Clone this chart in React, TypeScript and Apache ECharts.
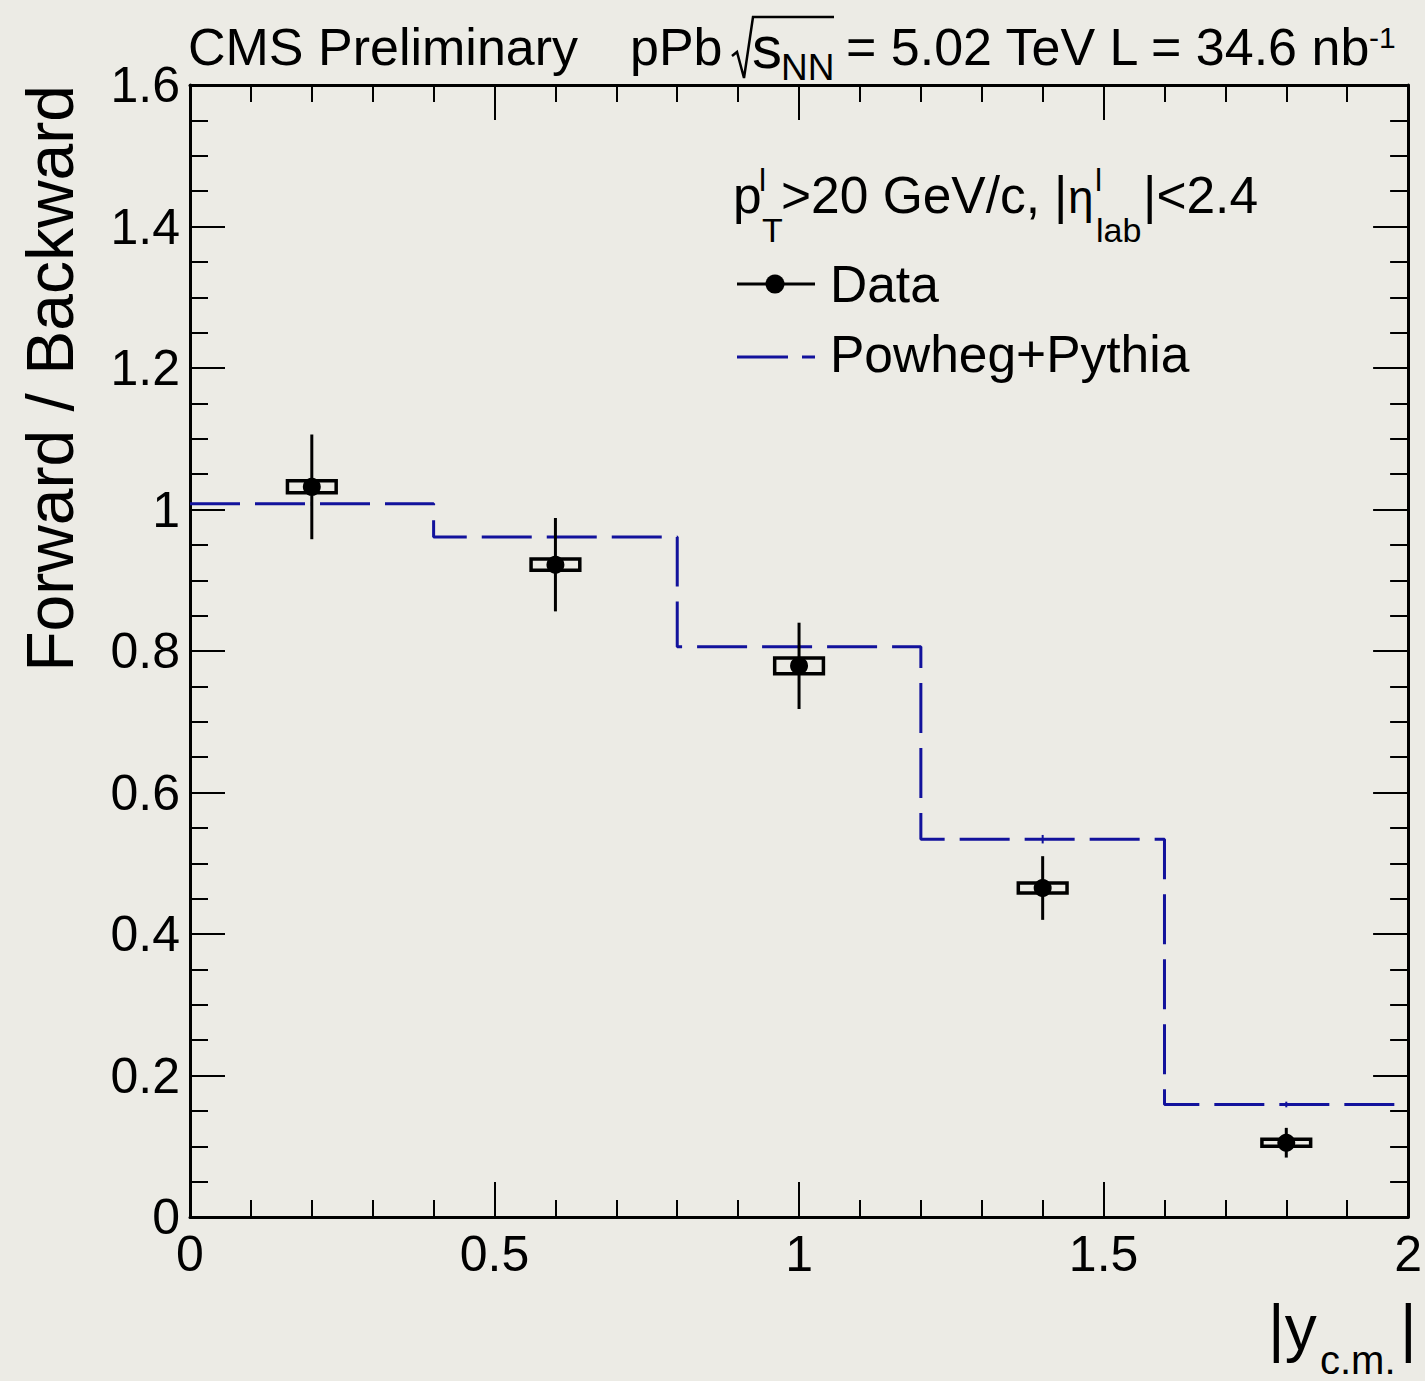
import React, { useEffect, useRef } from "react";
import * as echarts from "echarts";

// ---- data ----
const xTicks = [0, 0.5, 1, 1.5, 2];
const yTicks = [0, 0.2, 0.4, 0.6, 0.8, 1, 1.2, 1.4, 1.6];
const binCenters = [0.2, 0.6, 1.0, 1.4, 1.8];
const dataRatio = [1.032, 0.922, 0.779, 0.465, 0.105];
const statErr = [0.074, 0.066, 0.061, 0.045, 0.021];
const sysErr = [0.0085, 0.008, 0.011, 0.007, 0.005];
const mcEdges = [0, 0.4, 0.8, 1.2, 1.6, 2.0];
const mcRatio = [1.008, 0.961, 0.806, 0.534, 0.159];
const mcErr = [0.003, 0.003, 0.004, 0.006, 0.004];

const FONT = '"Liberation Sans", Arial, Helvetica, sans-serif';
const BG = "#ecebe5";
const MC_COLOR = "#12129c";
const BOX_HALF = 0.04;

function T(text: string, x: number, baseline: number, size: number, align: string = "left") {
  return {
    type: "text",
    x,
    y: baseline - 0.35 * size,
    silent: true,
    style: { text, fontSize: size, fontFamily: FONT, fill: "#000", align, verticalAlign: "middle" },
  };
}

export default function App() {
  const ref = useRef<HTMLDivElement>(null);
  useEffect(() => {
    if (!ref.current) return;
    const chart = echarts.init(ref.current, undefined, { renderer: "svg" });

    const mcData = mcEdges.map((e, i) => [e, mcRatio[Math.min(i, mcRatio.length - 1)]]);
    const pts = binCenters.map((x, i) => [x, dataRatio[i], statErr[i], sysErr[i], mcRatio[i], mcErr[i]]);

    const axisLine = { show: true, onZero: false, lineStyle: { color: "#000", width: 3 } };
    const xCommon = {
      type: "value",
      min: xTicks[0],
      max: xTicks[xTicks.length - 1],
      interval: 0.5,
      axisLine,
      axisTick: { show: true, inside: true, length: 35, lineStyle: { color: "#000", width: 2 } },
      minorTick: { show: true, splitNumber: 5, length: 17, lineStyle: { color: "#000", width: 2 } },
      splitLine: { show: false },
      minorSplitLine: { show: false },
    };
    const yCommon = {
      type: "value",
      min: yTicks[0],
      max: yTicks[yTicks.length - 1],
      interval: 0.2,
      axisLine,
      axisTick: { show: true, inside: true, length: 35, lineStyle: { color: "#000", width: 2 } },
      minorTick: { show: true, splitNumber: 4, length: 18, lineStyle: { color: "#000", width: 2 } },
      splitLine: { show: false },
      minorSplitLine: { show: false },
    };

    const option: any = {
      animation: false,
      backgroundColor: BG,
      grid: { left: 190, top: 85, right: 13, bottom: 164, containLabel: false },
      xAxis: [
        {
          ...xCommon,
          position: "bottom",
          axisLabel: {
            show: true, fontSize: 50, fontFamily: FONT, color: "#000", margin: 12,
            showMinLabel: true, showMaxLabel: true,
            formatter: (v: number) => String(v),
          },
        },
        { ...xCommon, position: "top", axisLabel: { show: false } },
      ],
      yAxis: [
        {
          ...yCommon,
          position: "left",
          axisLabel: {
            show: true, fontSize: 50, fontFamily: FONT, color: "#000", margin: 10,
            showMinLabel: true, showMaxLabel: true,
            formatter: (v: number) => String(Math.round(v * 10) / 10),
          },
        },
        { ...yCommon, position: "right", axisLabel: { show: false } },
      ],
      series: [
        {
          type: "line",
          step: "end",
          data: mcData,
          symbol: "none",
          lineStyle: { color: MC_COLOR, width: 3, type: [50, 15] },
          z: 2,
        },
        {
          type: "custom",
          data: pts,
          z: 2,
          renderItem: (params: any, api: any) => {
            const x = api.value(0);
            const m = api.value(4);
            const e = api.value(5);
            const a = api.coord([x, m + e]);
            const b = api.coord([x, m - e]);
            return {
              type: "line",
              shape: { x1: a[0], y1: a[1], x2: b[0], y2: b[1] },
              style: { stroke: MC_COLOR, lineWidth: 2 },
            };
          },
        },
        {
          type: "custom",
          data: pts,
          z: 3,
          renderItem: (params: any, api: any) => {
            const x = api.value(0);
            const y = api.value(1);
            const s = api.value(3);
            const p1 = api.coord([x - BOX_HALF, y + s]);
            const p2 = api.coord([x + BOX_HALF, y - s]);
            return {
              type: "rect",
              shape: { x: p1[0], y: p1[1], width: p2[0] - p1[0], height: p2[1] - p1[1] },
              style: { fill: "none", stroke: "#000", lineWidth: 3.5 },
            };
          },
        },
        {
          type: "custom",
          data: pts,
          z: 4,
          renderItem: (params: any, api: any) => {
            const x = api.value(0);
            const y = api.value(1);
            const e = api.value(2);
            const a = api.coord([x, y + e]);
            const b = api.coord([x, y - e]);
            return {
              type: "line",
              shape: { x1: a[0], y1: a[1], x2: b[0], y2: b[1] },
              style: { stroke: "#000", lineWidth: 3 },
            };
          },
        },
        {
          type: "scatter",
          data: binCenters.map((x, i) => [x, dataRatio[i]]),
          symbol: "circle",
          symbolSize: 18,
          itemStyle: { color: "#000", opacity: 1 },
          z: 5,
        },
      ],
      graphic: [
        // header
        T("CMS Preliminary", 188, 65, 52),
        T("pPb", 630, 65, 52),
        {
          type: "polyline",
          silent: true,
          shape: { points: [[732, 56], [737, 52], [744, 78], [753, 17], [834, 17]] },
          style: { stroke: "#000", lineWidth: 2.5, fill: "none" },
        },
        T("s", 752, 68, 60),
        T("NN", 781, 80, 37),
        T("= 5.02 TeV L = 34.6 nb", 846, 65, 52),
        T("-1", 1369, 48, 30),
        // cuts
        T("p", 733, 213, 51.5),
        T("l", 759, 191, 32),
        T("T", 762, 242, 34),
        T(">20 GeV/c,", 781, 213, 51.5),
        T("|", 1054, 213, 51.5),
        T("η", 1068, 213, 46),
        T("l", 1095, 191, 32),
        T("lab", 1096, 242, 34),
        T("|<2.4", 1143, 213, 51.5),
        // legend
        {
          type: "line", silent: true,
          shape: { x1: 737, y1: 284, x2: 815, y2: 284 },
          style: { stroke: "#000", lineWidth: 3 },
        },
        {
          type: "circle", silent: true,
          shape: { cx: 775, cy: 284, r: 9.5 },
          style: { fill: "#000" },
        },
        T("Data", 830, 302, 51.5),
        {
          type: "line", silent: true,
          shape: { x1: 737, y1: 357, x2: 815, y2: 357 },
          style: { stroke: MC_COLOR, lineWidth: 3, lineDash: [51, 14] },
        },
        T("Powheg+Pythia", 830, 372, 51.5),
        // x title
        T("|y", 1268, 1350, 64),
        T("c.m.", 1320, 1374, 40),
        T("|", 1400, 1350, 64),
        // y title
        {
          type: "text",
          x: 50,
          y: 85,
          rotation: Math.PI / 2,
          silent: true,
          style: {
            text: "Forward / Backward", fontSize: 66, fontFamily: FONT, fill: "#000",
            align: "right", verticalAlign: "middle",
          },
        },
      ],
    };
    chart.setOption(option);
    return () => chart.dispose();
  }, []);

  return (
    <div
      ref={ref}
      style={{ position: "absolute", left: 0, top: 0, width: 1425, height: 1381, background: BG }}
    />
  );
}
